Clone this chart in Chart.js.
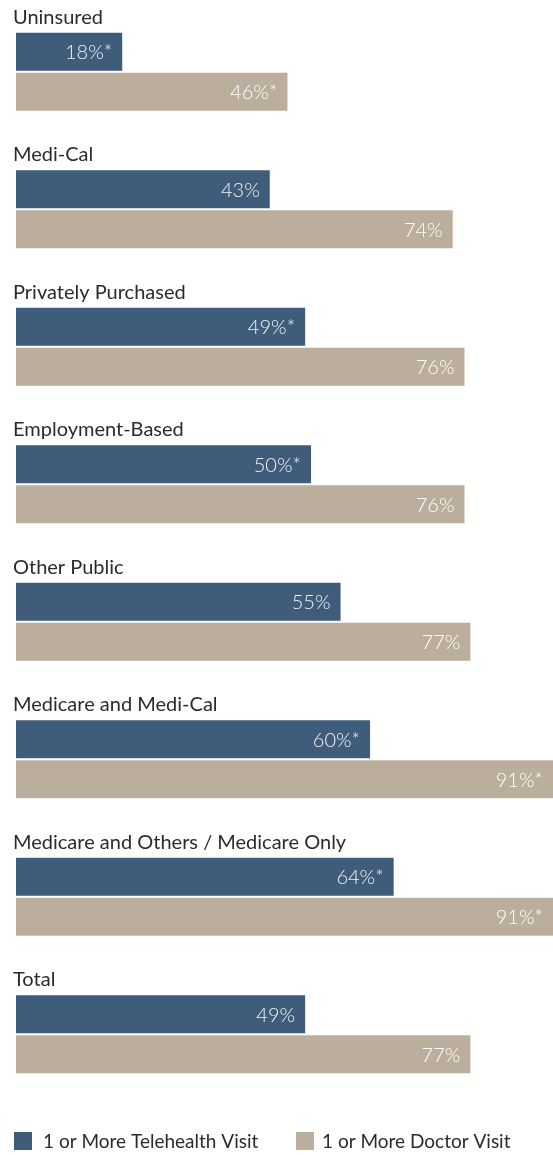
<!DOCTYPE html>
<html>
<head>
<meta charset="utf-8">
<script src="https://cdn.jsdelivr.net/npm/chart.js@4/dist/chart.umd.min.js"></script>
<style>
  html, body { margin: 0; padding: 0; background: #ffffff; }
  #wrap { position: relative; width: 553px; height: 1155px; }
</style>
</head>
<body>
<div id="wrap"><canvas id="c" width="553" height="1155"></canvas></div>
<script>
const categories = ["Uninsured", "Medi-Cal", "Privately Purchased", "Employment-Based", "Other Public", "Medicare and Medi-Cal", "Medicare and Others / Medicare Only", "Total"];
const telehealth = [18, 43, 49, 50, 55, 60, 64, 49];
const doctor = [46, 74, 76, 76, 77, 91, 91, 77];
const telehealthLabels = ["18%*", "43%", "49%*", "50%*", "55%", "60%*", "64%*", "49%"];
const doctorLabels = ["46%*", "74%", "76%", "76%", "77%", "91%*", "91%*", "77%"];
const seriesNames = ["1 or More Telehealth Visit", "1 or More Doctor Visit"];

const BLUE = "#3f5d7b";
const TAN = "#bbae9c";
const FONT = "Lato, 'Open Sans', sans-serif";

const valueLabels = [telehealthLabels, doctorLabels];

const overlayPlugin = {
  id: "overlay",
  afterDatasetsDraw(chart) {
    const ctx = chart.ctx;
    const yScale = chart.scales.y;
    ctx.save();
    // category labels above each group
    ctx.fillStyle = "#2b2b2b";
    ctx.font = "400 20px " + FONT;
    ctx.textAlign = "left";
    ctx.textBaseline = "alphabetic";
    categories.forEach((c, i) => {
      const y = yScale.getPixelForValue(i);
      ctx.fillText(c, 13, y - 48);
    });
    // value labels inside bars
    ctx.font = "300 20px " + FONT;
    ctx.textAlign = "right";
    ctx.textBaseline = "middle";
    chart.data.datasets.forEach((ds, di) => {
      const meta = chart.getDatasetMeta(di);
      meta.data.forEach((bar, i) => {
        ctx.fillStyle = di === 0 ? "#f2f2f2" : "#ffffff";
        ctx.fillText(valueLabels[di][i], bar.x - 10, bar.y + 1);
      });
    });
    // legend
    ctx.font = "400 19px " + FONT;
    ctx.textAlign = "left";
    ctx.textBaseline = "middle";
    const ly = 1141;
    const items = [{x: 14, tx: 43}, {x: 296, tx: 322}];
    chart.data.datasets.forEach((ds, di) => {
      ctx.fillStyle = ds.backgroundColor;
      ctx.fillRect(items[di].x, ly - 9, 18, 18);
      ctx.fillStyle = "#2b2b2b";
      ctx.fillText(ds.label, items[di].tx, ly + 1);
    });
    ctx.restore();
  }
};

new Chart(document.getElementById("c"), {
  type: "bar",
  data: {
    labels: categories,
    datasets: [
      { label: seriesNames[0], data: telehealth, backgroundColor: BLUE, categoryPercentage: 0.582, barPercentage: 0.95 },
      { label: seriesNames[1], data: doctor, backgroundColor: TAN, categoryPercentage: 0.582, barPercentage: 0.95 }
    ]
  },
  options: {
    indexAxis: "y",
    responsive: false,
    animation: false,
    layout: { padding: { left: 16, right: 0, top: 3, bottom: 52 } },
    plugins: { legend: { display: false }, tooltip: { enabled: false } },
    scales: {
      x: { display: false, min: 0, max: 91 },
      y: { display: false, grid: { display: false } }
    }
  },
  plugins: [overlayPlugin]
});
</script>
</body>
</html>
